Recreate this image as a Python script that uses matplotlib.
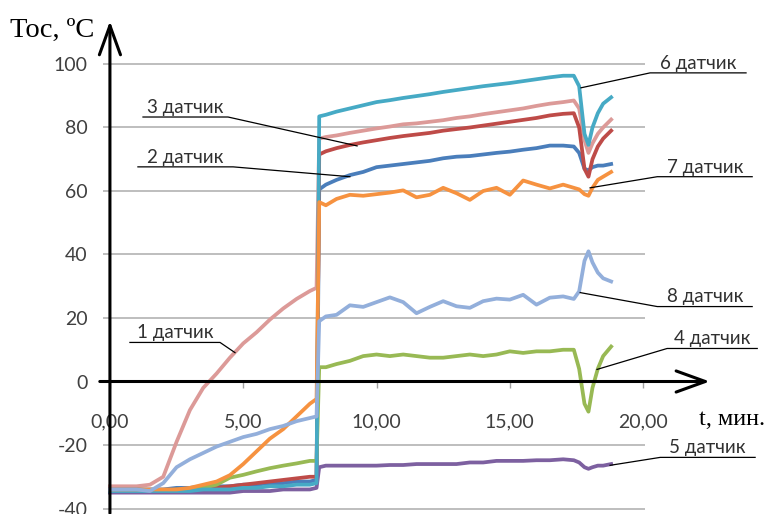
import matplotlib.pyplot as plt

# time, min (the heater switches on at ~7.8 min)
t = [0, 0.5, 1, 1.5, 2, 2.5, 3, 3.5, 4, 4.5, 5, 5.5, 6, 6.5, 7, 7.5, 7.75,
     7.85, 8.1, 8.5, 9, 9.5, 10, 10.5, 11, 11.5, 12, 12.5, 13, 13.5, 14, 14.5,
     15, 15.5, 16, 16.5, 17, 17.4, 17.6, 17.8, 17.95, 18.1, 18.3, 18.5, 18.8]

# temperature of each sensor, degC
s1 = [-33, -33, -33, -32.5, -30, -19, -9, -2, 2.5, 7.5, 12, 15.5, 19.5, 23, 26, 28.5, 29.5,
      76.5, 77, 77.5, 78.3, 79, 79.7, 80.3, 81, 81.3, 81.8, 82.3, 83, 83.5, 84.2, 84.8,
      85.4, 86, 86.8, 87.5, 88, 88.5, 86, 76, 72, 75, 78, 80, 82.5]
s2 = [-34, -34, -34, -34, -34, -33.5, -33.5, -33, -33, -33, -32.5, -32.5, -32, -32, -31.5, -31.5, -31,
      60.5, 62, 63.5, 65, 66, 67.5, 68, 68.5, 69, 69.5, 70.3, 70.8, 71, 71.5, 72,
      72.4, 73, 73.5, 74.3, 74.3, 74, 72, 67, 66.5, 67.5, 68, 68, 68.5]
s3 = [-34.5, -34.5, -34.5, -34.5, -34.5, -34, -34, -33.5, -33.5, -33, -32.5, -32, -31.5, -31, -30.5, -30, -30,
      71.5, 72.5, 73.5, 74.5, 75.3, 76, 76.7, 77.3, 77.8, 78.3, 79, 79.5, 80, 80.6, 81.2,
      81.8, 82.4, 83, 83.8, 84.3, 84.5, 80, 67, 64.5, 70, 74, 76.5, 79]
s4 = [-34.5, -34.5, -34.5, -34.5, -34.5, -34, -34, -33.5, -32.5, -30.3, -29.4, -28.3, -27.3, -26.5, -25.8, -25, -25,
      4.5, 4.5, 5.5, 6.5, 8, 8.5, 8, 8.5, 8, 7.5, 7.5, 8, 8.5, 8, 8.5,
      9.5, 9, 9.5, 9.5, 10, 10, 4, -7, -9.5, -2, 4, 8, 11]
s5 = [-35, -35, -35, -35, -35, -35, -35, -35, -35, -35, -34.5, -34.5, -34.5, -34, -34, -34, -33.5,
      -27, -26.5, -26.5, -26.5, -26.5, -26.5, -26.3, -26.3, -26, -26, -26, -26, -25.5, -25.5, -25,
      -25, -25, -24.8, -24.8, -24.5, -24.8, -25.5, -27, -27.5, -27, -26.5, -26.5, -26]
s6 = [-34.5, -34.5, -34.5, -34.5, -34.5, -34.5, -34.5, -34, -34, -34, -33.5, -33.5, -33, -33, -32.5, -32.5, -32,
      83.5, 84, 85, 86, 87, 88, 88.6, 89.3, 89.9, 90.5, 91.2, 91.8, 92.4, 93, 93.5,
      94, 94.6, 95.2, 95.8, 96.3, 96.3, 93, 78, 74.5, 80, 84.5, 87.5, 89.5]
s7 = [-34, -34, -34, -34, -34, -34, -33.5, -32.5, -31.5, -29.5, -26, -22, -18, -15, -11, -7, -5.5,
      56.5, 55.5, 57.5, 58.8, 58.5, 59, 59.5, 60.2, 58, 58.8, 61, 59.3, 57.2, 60, 61,
      58.8, 63.3, 62, 60.8, 62, 61, 60.5, 59, 58.5, 61, 63.5, 64.5, 66]
s8 = [-34, -34, -34, -34.5, -32, -27, -24.5, -22.5, -20.5, -19, -17.5, -16.5, -15, -14, -12.5, -11.5, -11,
      19, 20.5, 21, 24, 23.5, 25, 26.5, 25, 21.5, 23.5, 25.3, 23.7, 23.2, 25.3, 26.1,
      25.8, 27.3, 24.2, 26.4, 26.8, 26, 28.4, 38, 41, 37.5, 34.3, 32.5, 31.5]

series = [s1, s2, s3, s4, s5, s6, s7, s8]
names = ['1 датчик', '2 датчик', '3 датчик', '4 датчик',
         '5 датчик', '6 датчик', '7 датчик', '8 датчик']
colors = ['#DC9A98', '#4A7EBB', '#BE4B48', '#98B954',
          '#7D60A0', '#46AAC5', '#F69240', '#93AFDB']

xticks = [0, 5, 10, 15, 20]
xtick_labels = ['0,00', '5,00', '10,00', '15,00', '20,00']
yticks = [-40, -20, 0, 20, 40, 60, 80, 100]

plt.rcParams['font.family'] = ['Lato', 'DejaVu Sans']

fig = plt.figure(figsize=(7.72, 5.14), dpi=100)
ax = fig.add_axes([103 / 772, 0.0076, 542 / 772, 0.871])
ax.set_xlim(-0.26, 20.07)
ax.set_ylim(-40.5, 100.5)

for ys, c in zip(series, colors):
    ax.plot(t, ys, color=c, lw=2.7, solid_joinstyle='round')

# horizontal grid
for y in yticks:
    if y != 0:
        ax.axhline(y, color='#BEBEBE', lw=1.4, zorder=0)

for side in ['top', 'right', 'left']:
    ax.spines[side].set_visible(False)
ax.spines['bottom'].set_position(('data', 0))
ax.spines['bottom'].set_visible(False)

ax.set_yticks(yticks)
ax.set_yticklabels([str(v) for v in yticks])
ax.tick_params(axis='y', length=0, pad=11, labelsize=14, labelcolor='#404040')
ax.set_xticks(xticks)
ax.set_xticklabels(xtick_labels)
ax.tick_params(axis='x', direction='out', length=4, width=1, color='#A0A0A0',
               pad=19, labelsize=14, labelcolor='#404040')

# axis arrows
arrow = dict(arrowstyle='->,head_length=1.05,head_width=0.38', lw=2.2,
             color='black', mutation_scale=20, shrinkA=0, shrinkB=0)
ax.annotate('', xy=(22.5, 0), xytext=(-0.38, 0), arrowprops=arrow,
            annotation_clip=False)
ax.annotate('', xy=(0, 113.5), xytext=(0, -41.5), arrowprops=arrow,
            annotation_clip=False)

ax.text(-3.75, 110.5, 'Toc, ºC', family='Liberation Serif', fontsize=20.5,
        ha='left', va='center', clip_on=False)
ax.text(22.1, -12, 't, мин.', family='Liberation Serif', fontsize=17.5,
        ha='left', va='center', clip_on=False)


# callout: underline from x0 to x1 at height y, leader to the curve at (px, py)
def callout(text, x0, x1, y, px, py, near):
    xn = x1 if near == 'right' else x0
    xf = x0 if near == 'right' else x1
    ax.plot([px, xn, xf], [py, y, y], color='black', lw=0.9,
            clip_on=False, zorder=5)
    ax.annotate(text, xy=((x0 + x1) / 2, y), xytext=(0, 3),
                textcoords='offset points', ha='center', va='baseline',
                fontsize=13.5, color='#303030', annotation_clip=False)


callout(names[2], 1.24, 4.43, 83.3, 9.27, 74.2, 'right')
callout(names[1], 1.05, 4.62, 67.6, 9.0, 64.5, 'right')
callout(names[0], 0.75, 4.13, 12.3, 4.69, 9.1, 'right')
callout(names[5], 20.26, 23.86, 97.2, 17.67, 92.5, 'left')
callout(names[6], 20.53, 24.09, 64.5, 18.01, 61.0, 'left')
callout(names[7], 20.53, 24.09, 23.6, 17.64, 28.0, 'left')
callout(names[3], 20.9, 24.28, 10.4, 18.27, 3.8, 'left')
callout(names[4], 20.64, 24.2, -23.9, 18.76, -26.4, 'left')

fig.savefig('out.png', dpi=100)
